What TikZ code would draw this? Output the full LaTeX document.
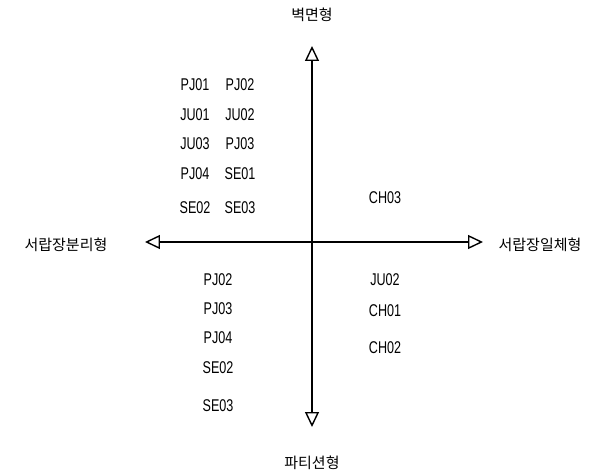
\documentclass[tikz,border=0pt]{standalone}
\usepackage{fontspec}
\setmainfont{Liberation Sans}
\newfontfamily\kor{Noto Sans CJK KR}
\usetikzlibrary{arrows.meta}
\tikzset{every picture/.append style={thick}}
\tikzset{
    axis/.style={line width=1.8pt, {Triangle[open, length=15pt, width=14pt, line width=1.4pt]}-{Triangle[open, length=15pt, width=14pt, line width=1.4pt]}},
    code/.style={inner sep=0pt, font=\fontsize{17}{20}\selectfont, xscale=0.74},
    type/.style={inner sep=0pt, font=\kor\fontsize{15}{18}\selectfont}
}

\begin{document}
\begin{tikzpicture}[x=1pt, y=1pt]
    \useasboundingbox (-312,-232) rectangle (280,242);

    % Axis ends
    \coordinate (top) at (0,196);
    \coordinate (bottom) at (0,-185);
    \coordinate (left) at (-167,0);
    \coordinate (right) at (171,0);

    % Axes
    \draw[axis] (bottom) -- (top);
    \draw[axis] (left) -- (right);

    % Axis labels
    \node[type] (wall) at (0,227) {벽면형};
    \node[type] (parti) at (0,-221) {파티션형};
    \node[type] (sep) at (-246,-3) {서랍장분리형};
    \node[type] (integ) at (228,-3) {서랍장일체형};

    % Upper left quadrant
    \node[code] (pj01) at (-117,157) {PJ01};
    \node[code] (pj02) at (-72,157) {PJ02};
    \node[code] (ju01) at (-117,127) {JU01};
    \node[code] (ju02) at (-72,127) {JU02};
    \node[code] (ju03) at (-117,98) {JU03};
    \node[code] (pj03) at (-72,98) {PJ03};
    \node[code] (pj04) at (-117,68) {PJ04};
    \node[code] (se01) at (-72,68) {SE01};
    \node[code] (se02) at (-117,34) {SE02};
    \node[code] (se03) at (-72,34) {SE03};

    % Lower left quadrant
    \node[code] (lpj02) at (-94,-38) {PJ02};
    \node[code] (lpj03) at (-94,-67) {PJ03};
    \node[code] (lpj04) at (-94,-96) {PJ04};
    \node[code] (lse02) at (-94,-126) {SE02};
    \node[code] (lse03) at (-94,-164) {SE03};

    % Right side
    \node[code] (ch03) at (73,44) {CH03};
    \node[code] (rju02) at (73,-38) {JU02};
    \node[code] (ch01) at (73,-69) {CH01};
    \node[code] (ch02) at (73,-106) {CH02};
\end{tikzpicture}
\end{document}
